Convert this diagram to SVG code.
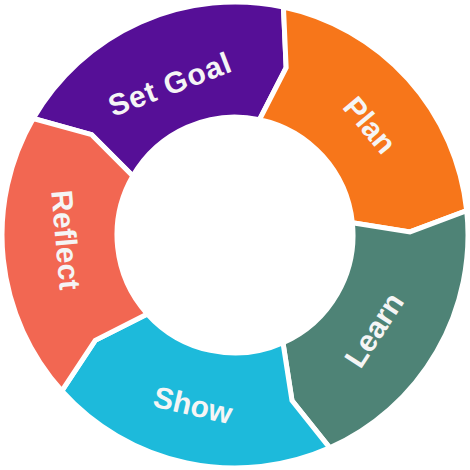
<svg xmlns="http://www.w3.org/2000/svg" width="470" height="470" viewBox="0 0 470 470">
<style>
.seg{stroke:#ffffff;stroke-width:5;stroke-linejoin:miter}
.lbl{font-family:"Liberation Sans",Arial,sans-serif;font-weight:bold;font-size:30px;fill:#f5f5f5;text-anchor:middle;dominant-baseline:central}
</style>
<rect width="470" height="470" fill="#ffffff"/>
<g id="connectors"></g>
<g id="set-goal">
<path class="seg" fill="#560f97" d="M33.22,118.5 A233,233 0 0 1 283.44,7.09 L286.16,67.65 L259.53,119.58 A118,118 0 0 0 132.81,176.0 L91.65,134.62 Z"/>
<text class="lbl" letter-spacing="1" transform="translate(170,84) rotate(-21)">Set Goal</text>
</g>
<g id="plan">
<path class="seg" fill="#f7761a" d="M283.44,7.09 A233,233 0 0 1 466.72,210.64 L409.97,231.95 L352.35,222.67 A118,118 0 0 0 259.53,119.58 L286.16,67.65 Z"/>
<text class="lbl" transform="translate(370,125) rotate(50)">Plan</text>
</g>
<g id="learn">
<path class="seg" fill="#4e8376" d="M466.72,210.64 A233,233 0 0 1 329.77,447.86 L291.97,400.47 L283.0,342.8 A118,118 0 0 0 352.35,222.67 L409.97,231.95 Z"/>
<text class="lbl" transform="translate(374,330) rotate(-57)">Learn</text>
</g>
<g id="show">
<path class="seg" fill="#1dbadb" d="M329.77,447.86 A233,233 0 0 1 61.85,390.91 L95.24,340.32 L147.31,313.96 A118,118 0 0 0 283.0,342.8 L291.97,400.47 Z"/>
<text class="lbl" transform="translate(193,405) rotate(13)">Show</text>
</g>
<g id="reflect">
<path class="seg" fill="#f26752" d="M61.85,390.91 A233,233 0 0 1 33.22,118.5 L91.65,134.62 L132.81,176.0 A118,118 0 0 0 147.31,313.96 L95.24,340.32 Z"/>
<text class="lbl" transform="translate(66,240) rotate(85)">Reflect</text>
</g>
</svg>
